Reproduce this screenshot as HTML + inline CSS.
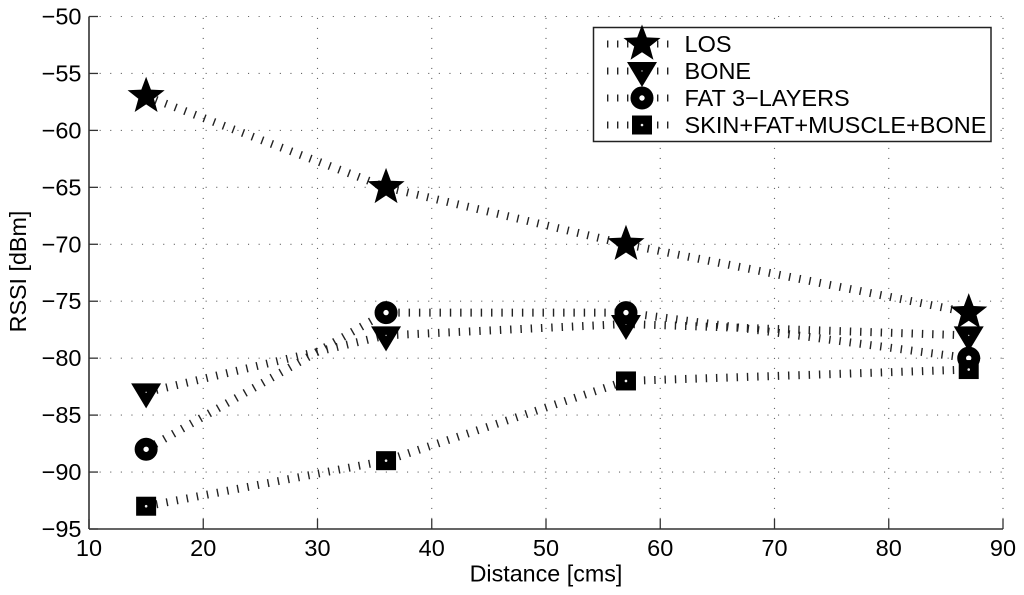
<!DOCTYPE html>
<html>
<head>
<meta charset="utf-8">
<style>
html,body{margin:0;padding:0;background:#fff;width:1024px;height:595px;overflow:hidden}
svg{display:block;font-family:"Liberation Sans",sans-serif;fill:#000}
svg text{fill:#000}
</style>
</head>
<body>
<svg id="chart" width="1024" height="595" viewBox="0 0 1024 595" xmlns="http://www.w3.org/2000/svg">
<defs><filter id="soft" x="-5%" y="-5%" width="110%" height="110%"><feGaussianBlur stdDeviation="0.3"/></filter></defs>
<g id="root" filter="url(#soft)"></g>
</svg>
<script>
const distances = [15, 36, 57, 87];
const losValues = [-57, -65, -70, -76];
const boneValues = [-83, -78, -77, -78];
const fatValues = [-88, -76, -76, -80];
const skinValues = [-93, -89, -82, -81];
const seriesNames = ['LOS', 'BONE', 'FAT 3\u2212LAYERS', 'SKIN+FAT+MUSCLE+BONE'];
const xTicks = [10, 20, 30, 40, 50, 60, 70, 80, 90];
const yTicks = [-50, -55, -60, -65, -70, -75, -80, -85, -90, -95];

const NS = 'http://www.w3.org/2000/svg';
const root = document.getElementById('root');
const L = 89, R = 1003, T = 16.5, B = 529;
const xMin = 10, xMax = 90, yMin = -95, yMax = -50;
function sx(v) { return L + (v - xMin) / (xMax - xMin) * (R - L); }
function sy(v) { return B - (v - yMin) / (yMax - yMin) * (B - T); }
function mk(tag, attrs, parent) {
  const e = document.createElementNS(NS, tag);
  for (const k in attrs) e.setAttribute(k, attrs[k]);
  (parent || root).appendChild(e);
  return e;
}
function minusLabel(v) { return v < 0 ? '\u2212' + Math.abs(v) : String(v); }

// grid (top and right edges are dotted too; only left and bottom axes are solid)
xTicks.forEach(function (t) {
  if (t === xMin) return;
  const g = mk('line', { x1: sx(t), x2: sx(t), y1: B, y2: T, stroke: '#666', 'stroke-width': 1.1, 'stroke-dasharray': '1.1 8.9' });
  
  
});
yTicks.forEach(function (t) {
  if (t === yMin) return;
  const g = mk('line', { x1: L, x2: R, y1: sy(t), y2: sy(t), stroke: '#666', 'stroke-width': 1.1, 'stroke-dasharray': '1.1 9.5' });
  
  
});

// axes
const yAxisLine = mk('line', { x1: L, x2: L, y1: T, y2: B, stroke: '#333', 'stroke-width': 1.6 });


const xAxisLine = mk('line', { x1: L, x2: R, y1: B, y2: B, stroke: '#333', 'stroke-width': 1.6 });



// ticks + labels
xTicks.forEach(function (t) {
  const a = mk('line', { x1: sx(t), x2: sx(t), y1: B, y2: B - 10, stroke: '#333', 'stroke-width': 1.3 });
  
  
  const lab = mk('text', { x: sx(t), y: 556, 'text-anchor': 'middle', 'font-size': 23.5 });
  
  
  lab.textContent = String(t);
});
yTicks.forEach(function (t) {
  const a = mk('line', { x1: L, x2: L + 9, y1: sy(t), y2: sy(t), stroke: '#333', 'stroke-width': 1.3 });
  
  
  const lab = mk('text', { x: 81.5, y: sy(t) + 8, 'text-anchor': 'end', 'font-size': 23.5 });
  
  
  lab.textContent = minusLabel(t);
});

// axis titles
const xTitle = mk('text', { x: 546, y: 581.5, 'text-anchor': 'middle', 'font-size': 23.3 });


xTitle.textContent = 'Distance [cms]';
const yTitle = mk('text', { x: 0, y: 0, 'text-anchor': 'middle', 'font-size': 23.3, transform: 'translate(26 271.5) rotate(-90)' });


yTitle.textContent = 'RSSI [dBm]';

// markers
function starPath(cx, cy, r) {
  let d = '';
  for (let i = 0; i < 10; i++) {
    const rad = i % 2 ? r * 0.42 : r;
    const ang = -Math.PI / 2 + i * Math.PI / 5;
    d += (i ? 'L' : 'M') + (cx + rad * Math.cos(ang)).toFixed(2) + ' ' + (cy + rad * Math.sin(ang)).toFixed(2);
  }
  return d + 'Z';
}
const drawers = [
  function (g, x, y) {
    mk('path', { d: starPath(x, y, 19.5), fill: '#000' }, g);
  },
  function (g, x, y) {
    mk('path', { d: 'M' + (x - 15) + ' ' + (y - 9) + 'L' + (x + 15) + ' ' + (y - 9) + 'L' + x + ' ' + (y + 16) + 'Z', fill: '#000' }, g);
    mk('circle', { cx: x, cy: y, r: 0.7, fill: '#ccc' }, g);
  },
  function (g, x, y) {
    mk('circle', { cx: x, cy: y, r: 7.1, fill: '#fff', stroke: '#000', 'stroke-width': 8.8 }, g);
  },
  function (g, x, y) {
    mk('rect', { x: x - 10, y: y - 9.5, width: 20, height: 19, fill: '#000' }, g);
    mk('circle', { cx: x, cy: y, r: 1.3, fill: '#eee' }, g);
  }
];
const allValues = [losValues, boneValues, fatValues, skinValues];
const seriesKeys = ['los', 'bone', 'fat-3-layers', 'skin-fat-muscle-bone'];

allValues.forEach(function (vals, si) {
  const g = mk('g', {});
  
  
  const pts = distances.map(function (d, i) { return sx(d) + ',' + sy(vals[i]); }).join(' ');
  const line = mk('polyline', { points: pts, fill: 'none', stroke: '#222', 'stroke-width': 8, 'stroke-dasharray': '1.4 8.9' }, g);
  
  
  distances.forEach(function (d, i) {
    const m = mk('g', {}, g);
    
    
    drawers[si](m, sx(d), sy(vals[i]));
  });
});

// legend
const legend = mk('g', {});


const legendBox = mk('rect', { x: 593.5, y: 27.5, width: 397.5, height: 114, fill: '#fff', stroke: '#222', 'stroke-width': 1.5 }, legend);


seriesNames.forEach(function (name, i) {
  const y = 44 + i * 27;
  const e = mk('g', {}, legend);
  
  
  mk('line', { x1: 607, x2: 674, y1: y, y2: y, stroke: '#222', 'stroke-width': 7, 'stroke-dasharray': '1.4 8.6' }, e);
  drawers[i](e, 642, y);
  const t = mk('text', { x: 684.5, y: y + 8.2, 'font-size': 23.5 }, e);
  t.textContent = name;
});
</script>
</body>
</html>
